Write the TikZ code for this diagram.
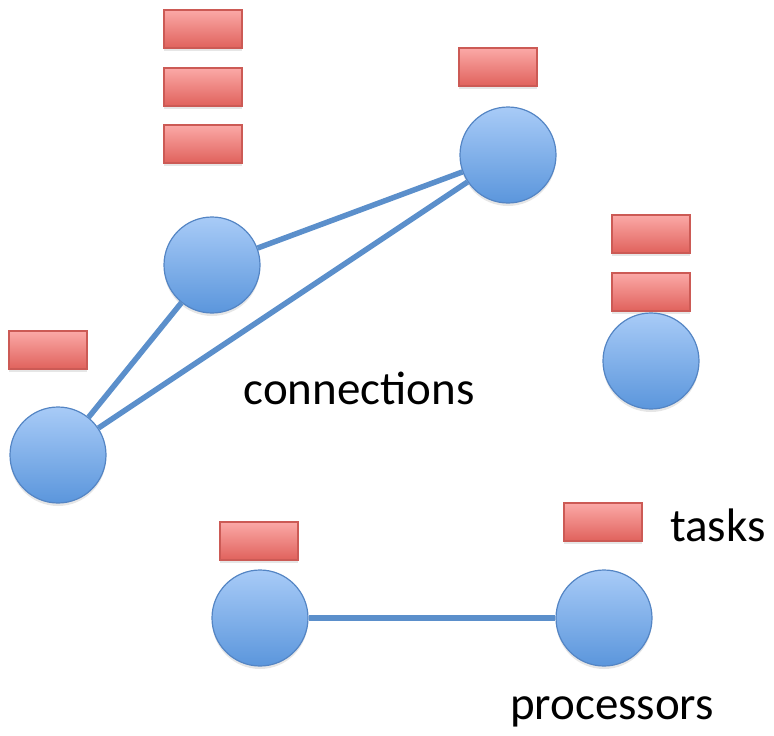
\documentclass[tikz,border=0pt]{standalone}
\usepackage{fontspec}
\setmainfont{Carlito}
\usetikzlibrary{shapes,shadows,positioning}
\definecolor{proctop}{HTML}{A8CBF7}
\definecolor{procbot}{HTML}{5B96DC}
\definecolor{procline}{HTML}{5485C4}
\definecolor{tasktop}{HTML}{FBA9A7}
\definecolor{taskbot}{HTML}{E0625C}
\definecolor{taskline}{HTML}{CC5A55}
\definecolor{linkblue}{HTML}{5B8FCB}

\tikzset{
  proc/.style={circle, minimum size=96pt, inner sep=0pt, draw=procline, line width=1.2pt,
    top color=proctop, bottom color=procbot,
    drop shadow={shadow xshift=0pt, shadow yshift=-3pt, opacity=0.2}},
  task/.style={rectangle, minimum width=78pt, minimum height=38pt, inner sep=0pt,
    draw=taskline, line width=1.2pt, top color=tasktop, bottom color=taskbot,
    drop shadow={shadow xshift=0pt, shadow yshift=-3pt, opacity=0.2}},
  link/.style={draw=linkblue, line width=5.5pt},
  lbl/.style={font=\fontsize{47}{56}\selectfont, inner sep=0pt}
}

\begin{document}
\begin{tikzpicture}[x=1pt,y=-1pt]
\useasboundingbox (0,0) rectangle (774,736);

% Tasks
\node[task] (t1) at (203,29) {};
\node[task] (t2) at (203,87) {};
\node[task] (t3) at (203,144) {};
\node[task] (t4) at (498,67) {};
\node[task] (t5) at (651,234) {};
\node[task] (t6) at (651,292) {};
\node[task] (t7) at (48,350) {};
\node[task] (t8) at (259,541) {};
\node[task] (tlegend) at (603,522) {};

% Processors
\node[proc] (pa) at (212,265) {};
\node[proc] (pb) at (508,155) {};
\node[proc] (pc) at (58,455) {};
\node[proc] (pd) at (651,361) {};
\node[proc] (pe) at (260,618) {};
\node[proc] (pf) at (604,618) {};

% Connections
\draw[link] (pa) -- (pb);
\draw[link] (pa) -- (pc);
\draw[link] (pc) -- (pb);
\draw[link] (pe) -- (pf);

% Labels
\node[lbl] (lconn) at (359,388) {connections};
\node[lbl, anchor=west] (ltasks) at (670,525) {tasks};
\node[lbl] (lproc) at (612,712) {processors};
\end{tikzpicture}
\end{document}
